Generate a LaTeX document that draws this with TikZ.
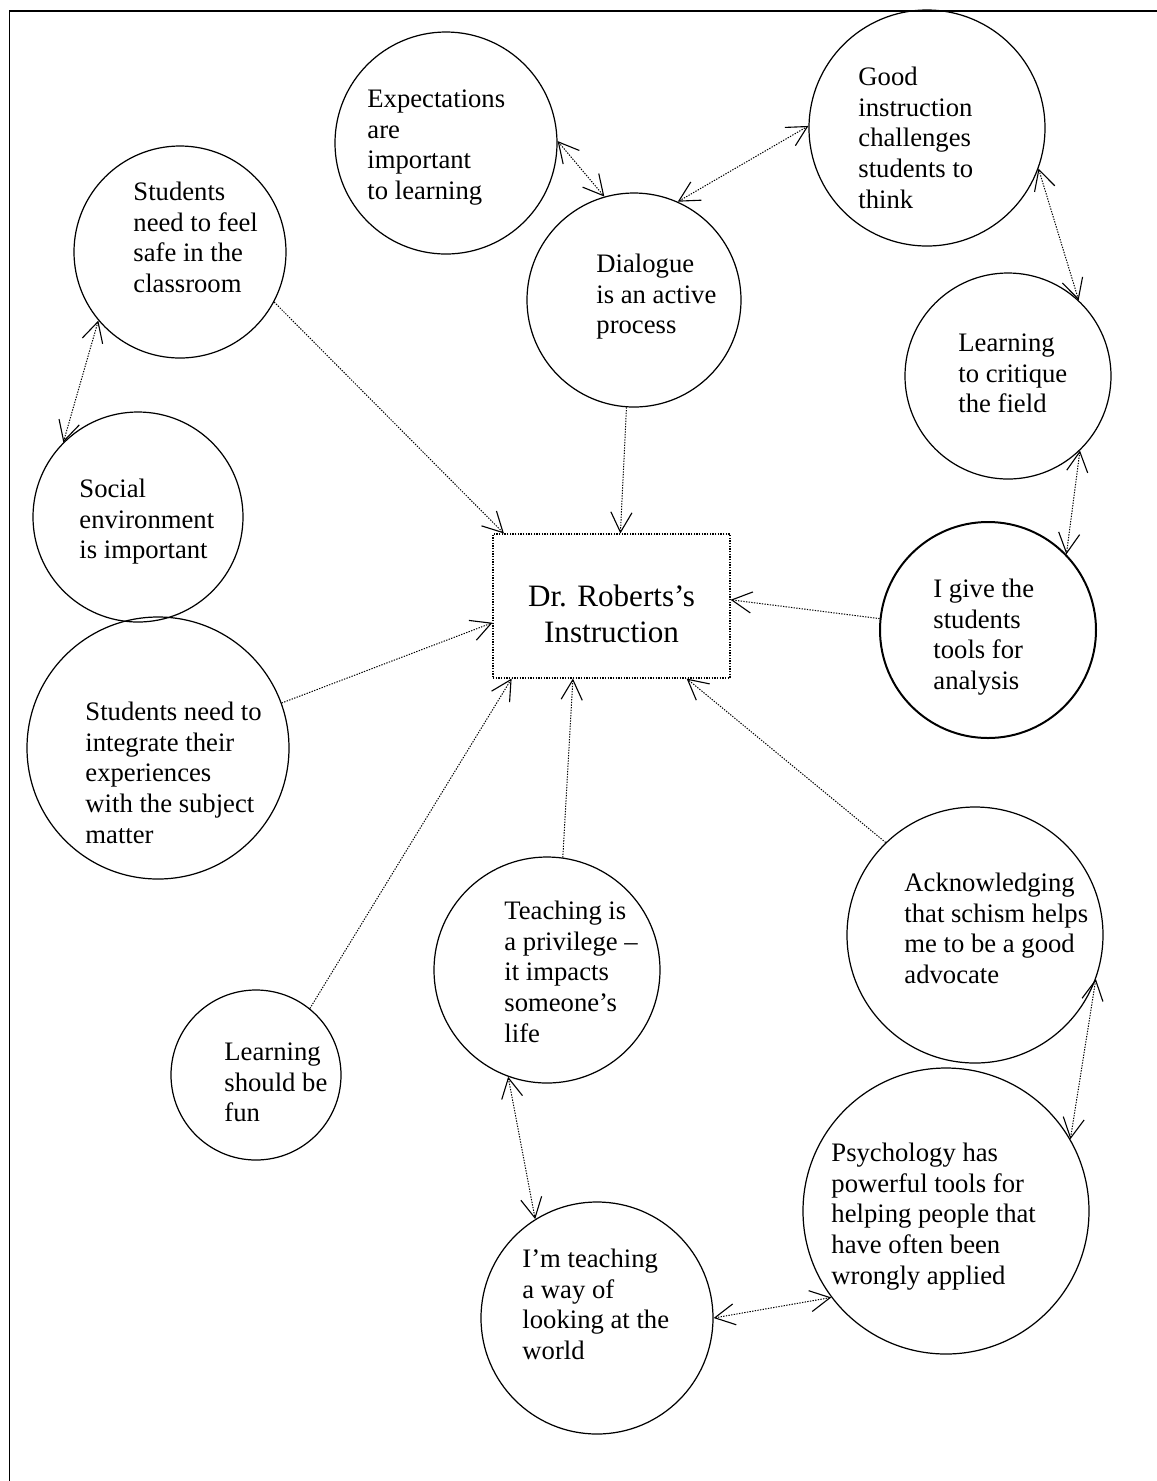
\documentclass[tikz,border=0pt]{standalone}
\usepackage{fontspec}
\setmainfont{Liberation Serif}
\usetikzlibrary{arrows.meta}
\begin{document}
\begin{tikzpicture}[x=0.45pt,y=-0.45pt,
  bubble/.style={circle,draw,line width=0.55pt,inner sep=0pt,minimum size=#1*0.9pt},
  txt/.style={anchor=north west,align=left,inner sep=0pt,font=\fontsize{12}{13.8}\selectfont},
  tipshape/.style={},
  one/.style={draw=black,line width=0.45pt,dash pattern=on 0.6pt off 0.6pt,
    -{Straight Barb[length=9pt,width=9.5pt,line width=0.5pt]}},
  both/.style={draw=black,line width=0.45pt,dash pattern=on 0.6pt off 0.6pt,
    {Straight Barb[length=9pt,width=9.5pt,line width=0.5pt]}-{Straight Barb[length=9pt,width=9.5pt,line width=0.5pt]}}]
\useasboundingbox (0,0) rectangle (1157,1481);
% page frame
\draw[line width=0.7pt] (9.5,1481) -- (9.5,11) -- (1157,11);

% central box
\node[draw,line width=0.5pt,dash pattern=on 0.6pt off 0.6pt,minimum width=106.65pt,minimum height=64.8pt,inner sep=0pt] (box) at (611.5,606) {};
\node[align=center,inner sep=0pt,font=\fontsize{14}{16.2}\selectfont] (boxtext) at (611.5,614) {Dr. Roberts’s\\Instruction};

% bubbles
\node[bubble=111] (exp) at (446,143) {};
\node[bubble=107] (dia) at (634,300) {};
\node[bubble=118] (good) at (927,128) {};
\node[bubble=103] (crit) at (1008,376) {};
\node[bubble=108,line width=0.9pt] (give) at (988,630) {};
\node[bubble=106] (safe) at (180,252) {};
\node[bubble=105] (social) at (138,517) {};
\node[bubble=131] (integ) at (158,748) {};
\node[bubble=85] (fun) at (256,1075) {};
\node[bubble=113] (priv) at (547,970) {};
\node[bubble=116] (way) at (597,1318) {};
\node[bubble=143] (psych) at (946,1211) {};
\node[bubble=128] (ack) at (975,935) {};

% bubble texts
\node[txt] (texp) at (367,85.5) {\strut Expectations\\are\\important\\to learning};
\node[txt] (tgood) at (858,63.5) {\strut Good\\instruction\\challenges\\students to\\think};
\node[txt] (tsafe) at (133,178.5) {\strut Students\\need to feel\\safe in the\\classroom};
\node[txt] (tdia) at (596,250.5) {\strut Dialogue\\is an active\\process};
\node[txt] (tcrit) at (958,329.5) {\strut Learning\\to critique\\the field};
\node[txt] (tsocial) at (79,475.5) {\strut Social\\environment\\is important};
\node[txt] (tgive) at (933,575.5) {\strut I give the\\students\\tools for\\analysis};
\node[txt] (tinteg) at (85,698.5) {\strut Students need to\\integrate their\\experiences\\with the subject\\matter};
\node[txt] (tack) at (904,869.5) {\strut Acknowledging\\that schism helps\\me to be a good\\advocate};
\node[txt] (tpriv) at (504,897.5) {\strut Teaching is\\a privilege –\\it impacts\\someone’s\\life};
\node[txt] (tfun) at (224,1038.5) {\strut Learning\\should be\\fun};
\node[txt] (tpsych) at (831,1139.5) {\strut Psychology has\\powerful tools for\\helping people that\\have often been\\wrongly applied};
\node[txt] (tway) at (522,1245.5) {\strut I’m teaching\\a way of\\looking at the\\world};

% links between bubbles
\draw[both] (exp.1.5) -- (dia.106.6);
\draw[both] (dia.66.9) -- (good.179);
\draw[both] (good.-20.3) -- (crit.47.4);
\draw[both] (crit.-46.9) -- (give.44.6);
\draw[both] (safe.-140.1) -- (social.135);
\draw[both] (ack.-20.9) -- (psych.30.2);
\draw[both] (priv.-110.8) -- (way.122.2);
\draw[both] (way.0) -- (psych.217.5);

% links into the central box
\draw[one] (safe.-28.5) -- (box.146.4);
\draw[one] (dia.266.9) -- (box.83.4);
\draw[one] (give.174.7) -- (box.3.8);
\draw[one] (integ.20.1) -- (box.188.4);
\draw[one] (fun.51.2) -- (box.216.2);
\draw[one] (priv.82) -- (box.242.5);
\draw[one] (ack.134.4) -- (box.-44.8);
\end{tikzpicture}
\end{document}
